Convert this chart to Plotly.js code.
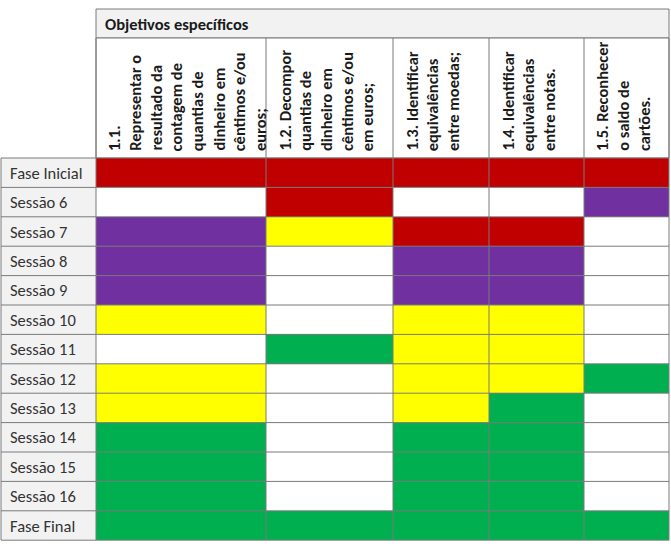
<!DOCTYPE html>
<html>
<head>
<meta charset="utf-8">
<script src="https://cdn.plot.ly/plotly-3.0.1.min.js"></script>
<style>html,body{margin:0;padding:0;background:#fff;}#chart{width:671px;height:548px;}</style>
</head>
<body>
<div id="chart"></div>
<script>
// ---- data ----
const groupTitle = 'Objetivos específicos';
const rowLabels = ['Fase Inicial','Sessão 6','Sessão 7','Sessão 8','Sessão 9','Sessão 10','Sessão 11','Sessão 12','Sessão 13','Sessão 14','Sessão 15','Sessão 16','Fase Final'];
const colLabel11 = ['1.1.','Representar o','resultado da','contagem de','quantias de','dinheiro em','cêntimos e/ou','euros;'];
const colLabel12 = ['1.2. Decompor','quantias de','dinheiro em','cêntimos e/ou','em euros;'];
const colLabel13 = ['1.3. Identificar','equivalências','entre moedas;'];
const colLabel14 = ['1.4. Identificar','equivalências','entre notas.'];
const colLabel15 = ['1.5. Reconhecer','o saldo de','cartões.'];
// status codes: R red, P purple, Y yellow, G green, W white (empty)
const obj11 = ['R','W','P','P','P','Y','W','Y','Y','G','G','G','G'];
const obj12 = ['R','R','Y','W','W','W','G','W','W','W','W','W','G'];
const obj13 = ['R','W','R','P','P','Y','Y','Y','Y','G','G','G','G'];
const obj14 = ['R','W','R','P','P','Y','Y','Y','G','G','G','G','G'];
const obj15 = ['R','P','W','W','W','W','W','G','W','W','W','W','G'];

// ---- layout constants ----
const codeOrder = ['W','R','P','Y','G'];
const codeColors = ['#FFFFFF','#C00000','#7030A0','#FFFF00','#00B050'];
const labelLeft = 1, gridLeft = 96;
const colWidths = [170,127,96,95,85];
const headTop = 9, headSplit = 38, bodyTop = 158, rowH = 29.4;
const lineGap = 20.8;
const fontFam = 'Carlito, Lato, "Open Sans", sans-serif';
const fontSize = 16.5;
const borderCol = '#7a7a7a';

const columns = [obj11,obj12,obj13,obj14,obj15];
const colTexts = [colLabel11,colLabel12,colLabel13,colLabel14,colLabel15];

const xEdges = [gridLeft];
colWidths.forEach(w => xEdges.push(xEdges[xEdges.length-1] + w));
const yEdges = [bodyTop];
rowLabels.forEach(() => yEdges.push(yEdges[yEdges.length-1] + rowH));
const gridRight = xEdges[xEdges.length-1];
const gridBottom = yEdges[yEdges.length-1];

const z = rowLabels.map((_, r) => columns.map(c => codeOrder.indexOf(c[r])));
const n = codeColors.length;
const colorscale = [];
codeColors.forEach((c, i) => { colorscale.push([i/n, c]); colorscale.push([(i+1)/n, c]); });

const trace = {
  type: 'heatmap', x: xEdges, y: yEdges, z: z,
  zmin: -0.5, zmax: n - 0.5, colorscale: colorscale,
  showscale: false, hoverinfo: 'skip', zsmooth: false
};

const shapes = [];
shapes.push({type:'rect', x0:gridLeft, x1:gridRight, y0:headTop, y1:headSplit, fillcolor:'#F2F2F2', line:{color:borderCol,width:1}, layer:'below'});
shapes.push({type:'rect', x0:gridLeft, x1:gridRight, y0:headSplit, y1:bodyTop, fillcolor:'#FFFFFF', line:{color:borderCol,width:1}, layer:'below'});
shapes.push({type:'rect', x0:labelLeft, x1:gridLeft, y0:bodyTop, y1:gridBottom, fillcolor:'#F2F2F2', line:{width:0}, layer:'below'});
xEdges.forEach((x) => shapes.push({type:'line', x0:x, x1:x, y0:headSplit, y1:gridBottom, line:{color:borderCol,width:1}}));
shapes.push({type:'line', x0:labelLeft, x1:labelLeft, y0:bodyTop, y1:gridBottom, line:{color:borderCol,width:1}});
yEdges.forEach((y) => shapes.push({type:'line', x0:labelLeft, x1:gridRight, y0:y, y1:y, line:{color:borderCol,width:1}}));

const annotations = [];
annotations.push({x:gridLeft+7, y:(headTop+headSplit)/2, xref:'x', yref:'y', text:'<b>'+groupTitle+'</b>', showarrow:false, xanchor:'left', yanchor:'middle', font:{family:fontFam,size:fontSize,color:'#1a1a1a'}});
rowLabels.forEach((t, r) => annotations.push({x:labelLeft+7, y:yEdges[r]+rowH/2, xref:'x', yref:'y', text:t, showarrow:false, xanchor:'left', yanchor:'middle', font:{family:fontFam,size:fontSize,color:'#333'}}));
colTexts.forEach((lines, c) => {
  lines.forEach((ln, i) => annotations.push({
    x: xEdges[c] + 18 + i*lineGap, y: bodyTop - 5, xref:'x', yref:'y',
    text:'<b>'+ln+'</b>', showarrow:false, textangle:-90, xanchor:'center', yanchor:'bottom',
    font:{family:fontFam,size:fontSize,color:'#1a1a1a'}
  }));
});

const layout = {
  width: 671, height: 548, margin:{l:0,r:0,t:0,b:0},
  paper_bgcolor:'#fff', plot_bgcolor:'#fff',
  xaxis:{range:[0,671], visible:false, fixedrange:true},
  yaxis:{range:[548,0], visible:false, fixedrange:true},
  shapes: shapes, annotations: annotations, showlegend:false
};
Plotly.newPlot('chart', [trace], layout, {staticPlot:true, displayModeBar:false});
</script>
</body>
</html>
